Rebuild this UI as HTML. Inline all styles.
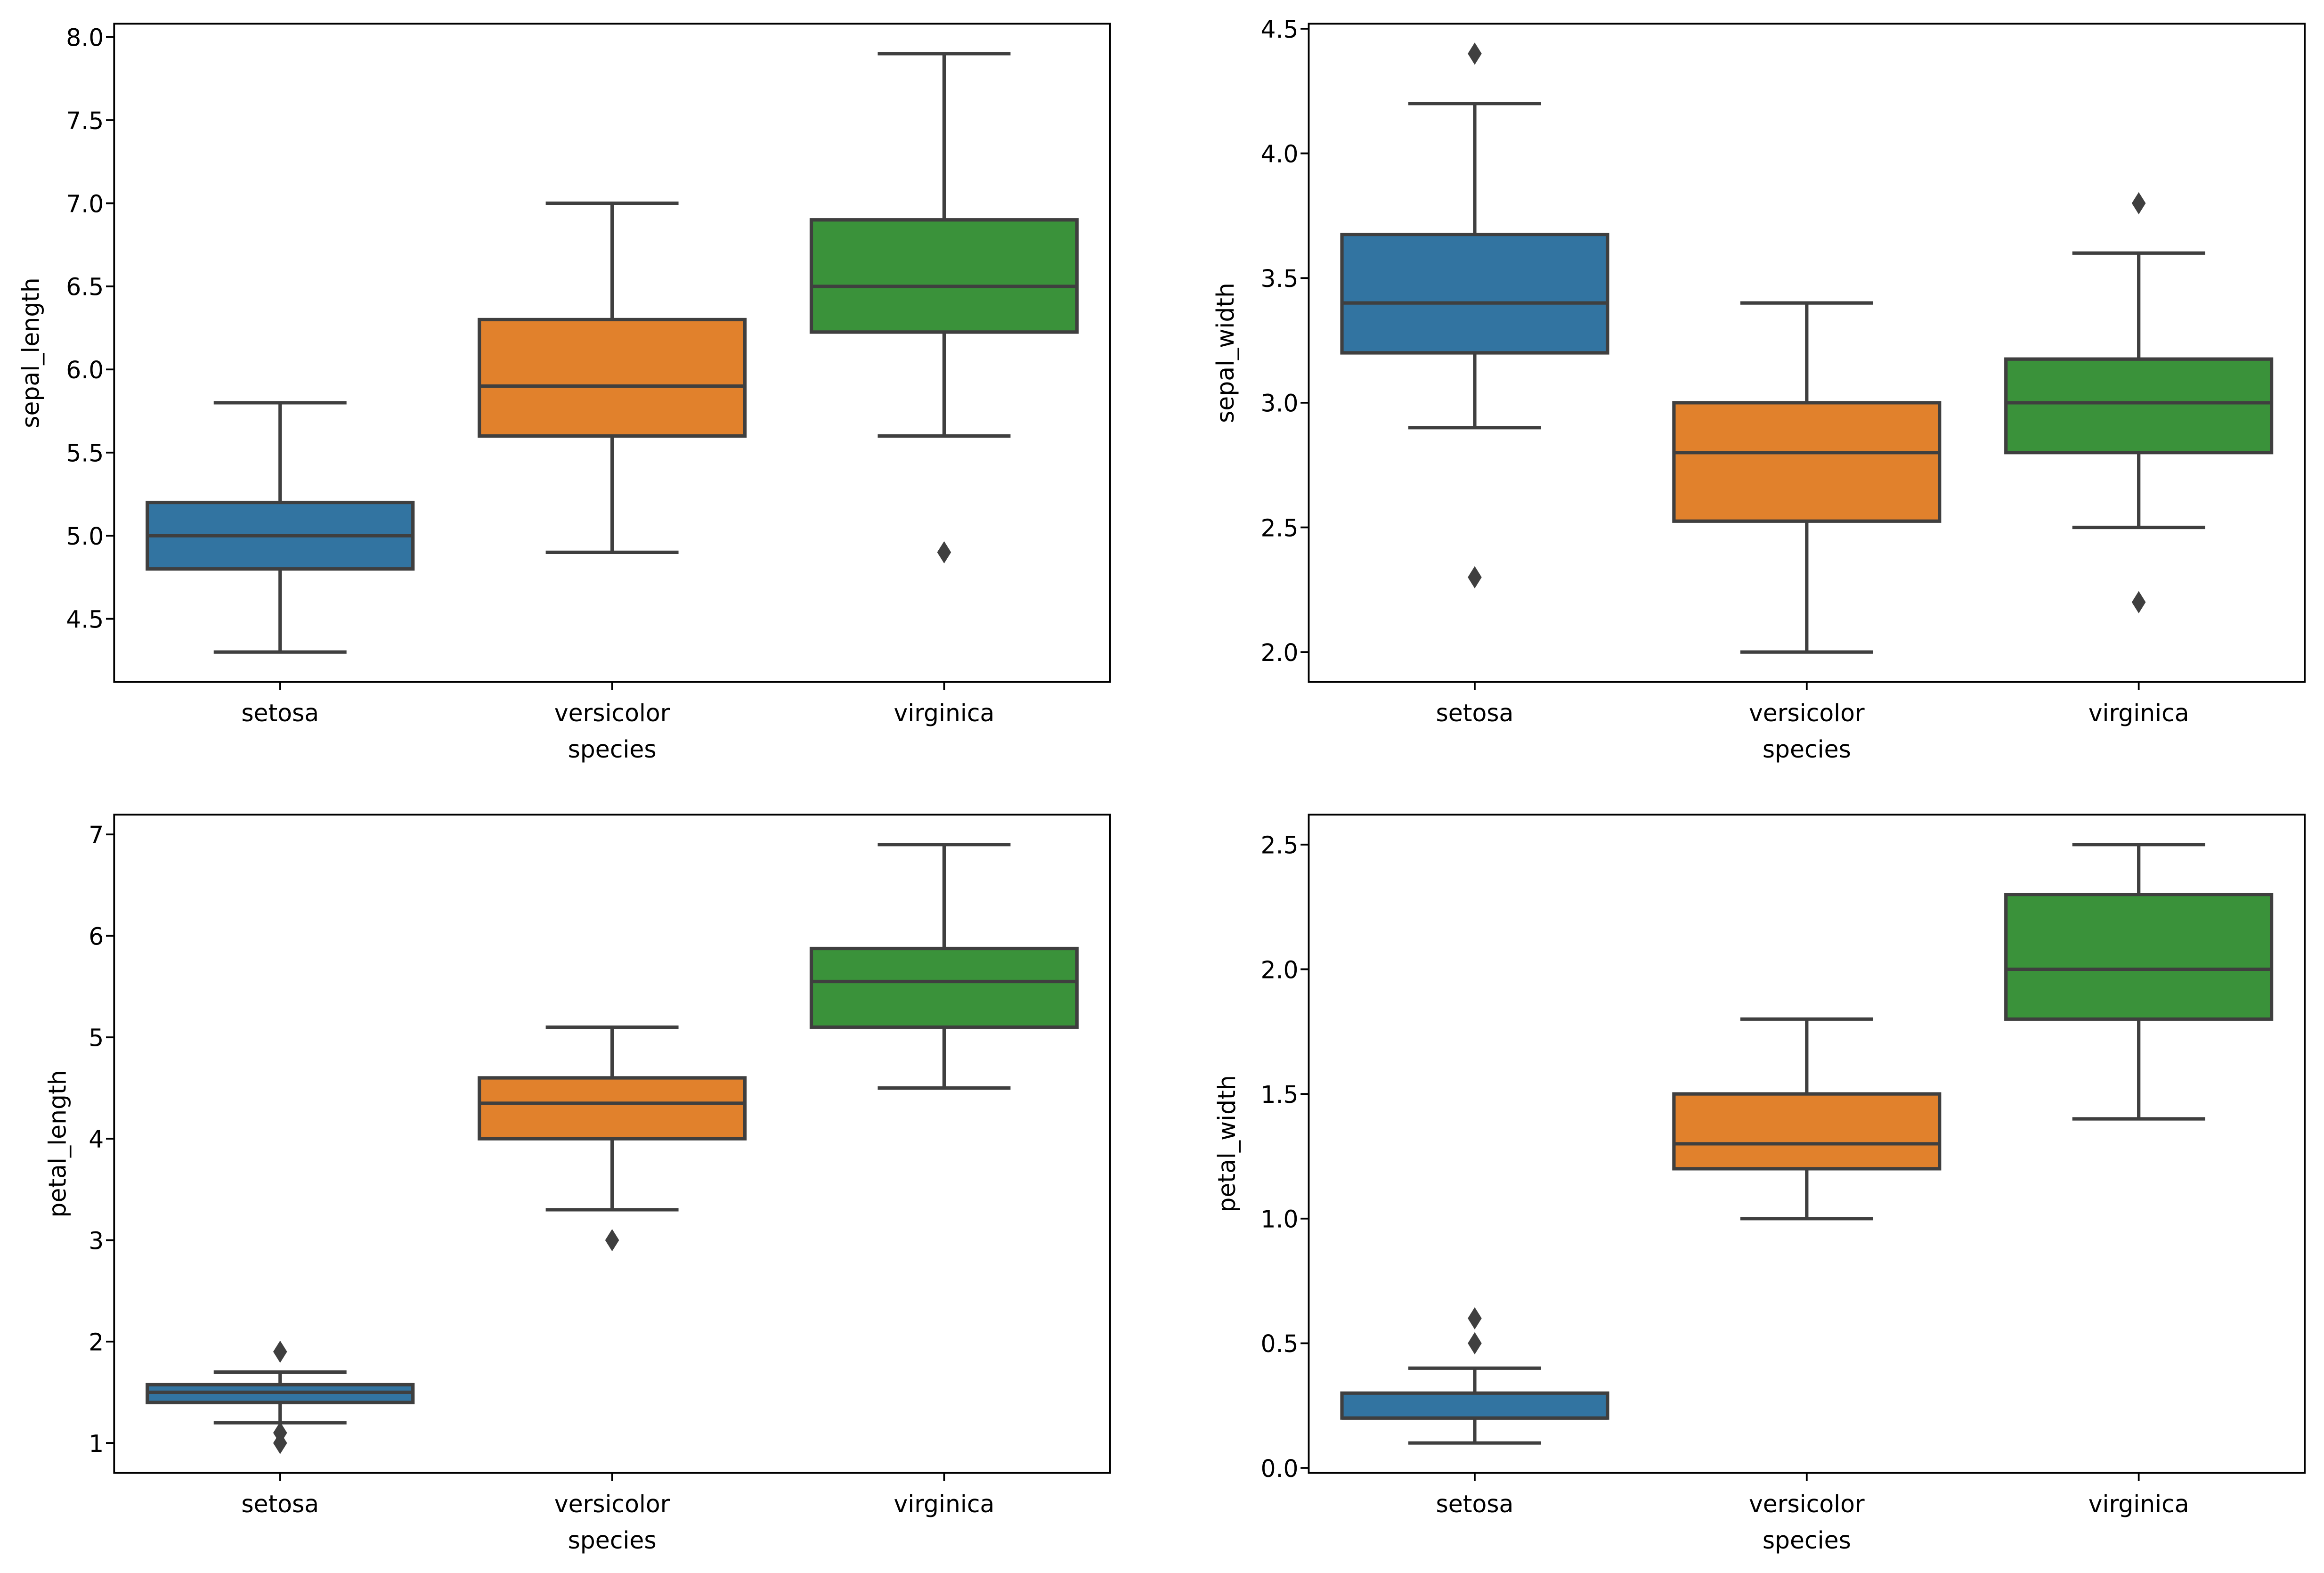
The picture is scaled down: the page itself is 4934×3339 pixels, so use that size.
<!DOCTYPE html>
<html><head><meta charset="utf-8"><style>
html,body{margin:0;padding:0;background:#fff;}
svg{display:block;}
text{font-family:"DejaVu Sans","Liberation Sans",sans-serif;fill:#000;}
</style></head><body>
<svg id="fig" width="4934" height="3339" viewBox="0 0 1568 1061" preserveAspectRatio="none" xmlns="http://www.w3.org/2000/svg">
<rect x="0" y="0" width="1568" height="1061" fill="#fff"/>
</svg>
<script>
const categories = ["setosa","versicolor","virginica"];
const colors = ["#3274a1","#e1812c","#3a923a"];
// [whiskerLow, q1, median, q3, whiskerHigh]
const sepalLengthStats = [[4.3,4.8,5.0,5.2,5.8],[4.9,5.6,5.9,6.3,7.0],[5.6,6.225,6.5,6.9,7.9]];
const sepalLengthOutliers = [[],[],[4.9]];
const sepalWidthStats = [[2.9,3.2,3.4,3.675,4.2],[2.0,2.525,2.8,3.0,3.4],[2.5,2.8,3.0,3.175,3.6]];
const sepalWidthOutliers = [[4.4,2.3],[],[3.8,2.2]];
const petalLengthStats = [[1.2,1.4,1.5,1.575,1.7],[3.3,4.0,4.35,4.6,5.1],[4.5,5.1,5.55,5.875,6.9]];
const petalLengthOutliers = [[1.9,1.1,1.0],[3.0],[]];
const petalWidthStats = [[0.1,0.2,0.2,0.3,0.4],[1.0,1.2,1.3,1.5,1.8],[1.4,1.8,2.0,2.3,2.5]];
const petalWidthOutliers = [[0.5,0.6],[],[]];
const sepalLengthTicks = ["4.5","5.0","5.5","6.0","6.5","7.0","7.5","8.0"];
const sepalWidthTicks = ["2.0","2.5","3.0","3.5","4.0","4.5"];
const petalLengthTicks = ["1","2","3","4","5","6","7"];
const petalWidthTicks = ["0.0","0.5","1.0","1.5","2.0","2.5"];

const NS="http://www.w3.org/2000/svg";
const fig=document.getElementById('fig');
function mk(tag,attrs,parent){const e=document.createElementNS(NS,tag);for(const k in attrs)e.setAttribute(k,attrs[k]);(parent||fig).appendChild(e);return e;}

const panels=[
 {name:"sepal-length",label:"sepal_length",stats:sepalLengthStats,out:sepalLengthOutliers,ticks:sepalLengthTicks,x0:77,x1:749,y0:16,y1:460,ylim:[4.12,8.08],ylx:22,tx:70},
 {name:"sepal-width",label:"sepal_width",stats:sepalWidthStats,out:sepalWidthOutliers,ticks:sepalWidthTicks,x0:883,x1:1555,y0:16,y1:460,ylim:[1.88,4.52],ylx:828,tx:876},
 {name:"petal-length",label:"petal_length",stats:petalLengthStats,out:petalLengthOutliers,ticks:petalLengthTicks,x0:77,x1:749,y0:549.5,y1:993.5,ylim:[0.705,7.195],ylx:40,tx:70},
 {name:"petal-width",label:"petal_width",stats:petalWidthStats,out:petalWidthOutliers,ticks:petalWidthTicks,x0:883,x1:1555,y0:549.5,y1:993.5,ylim:[-0.02,2.62],ylx:829,tx:876}
];
const LC="#3f3f3f";
const LW=2.3;
panels.forEach(p=>{
  const g=mk('g',{});
  
  
  const band=(p.x1-p.x0)/3;
  const xs=i=>p.x0+band*(i+0.5);
  const ys=v=>p.y1-(v-p.ylim[0])/(p.ylim[1]-p.ylim[0])*(p.y1-p.y0);
  const bw=band*0.8, cw=bw/2;
  p.stats.forEach((s,i)=>{
    const bg=mk('g',{},g);
    
    
    const cx=xs(i);
    mk('line',{x1:cx,x2:cx,y1:ys(s[0]),y2:ys(s[1]),stroke:LC,'stroke-width':LW},bg);
    mk('line',{x1:cx,x2:cx,y1:ys(s[3]),y2:ys(s[4]),stroke:LC,'stroke-width':LW},bg);
    mk('line',{x1:cx-cw/2,x2:cx+cw/2,y1:ys(s[0]),y2:ys(s[0]),stroke:LC,'stroke-width':LW},bg);
    mk('line',{x1:cx-cw/2,x2:cx+cw/2,y1:ys(s[4]),y2:ys(s[4]),stroke:LC,'stroke-width':LW},bg);
    mk('rect',{x:cx-bw/2,y:ys(s[3]),width:bw,height:ys(s[1])-ys(s[3]),fill:colors[i],stroke:LC,'stroke-width':LW},bg);
    mk('line',{x1:cx-bw/2,x2:cx+bw/2,y1:ys(s[2]),y2:ys(s[2]),stroke:LC,'stroke-width':LW},bg);
    p.out[i].forEach(v=>{
      const d=mk('polygon',{points:`${cx},${ys(v)-7.5} ${cx+4.7},${ys(v)} ${cx},${ys(v)+7.5} ${cx-4.7},${ys(v)}`,fill:LC},bg);
      
      
    });
  });
  const fr=mk('rect',{x:p.x0,y:p.y0,width:p.x1-p.x0,height:p.y1-p.y0,fill:'none',stroke:'#000','stroke-width':1.2},g);
  
  
  p.ticks.forEach(t=>{
    const y=ys(parseFloat(t));
    mk('line',{x1:p.x0-5.5,x2:p.x0,y1:y,y2:y,stroke:'#000','stroke-width':1.2},g);
    const tt=mk('text',{x:p.tx,y:y+6,'font-size':16,'text-anchor':'end'},g);
    tt.textContent=t;
    
    
  });
  categories.forEach((c,i)=>{
    const x=xs(i);
    mk('line',{x1:x,x2:x,y1:p.y1,y2:p.y1+5.5,stroke:'#000','stroke-width':1.2},g);
    const tt=mk('text',{x:x,y:p.y1+26.5,'font-size':16,'text-anchor':'middle'},g);
    tt.textContent=c;
    
    
  });
  const xl=mk('text',{x:(p.x0+p.x1)/2,y:p.y1+51,'font-size':16,'text-anchor':'middle'},g);
  xl.textContent='species';
  
  
  const cy=(p.y0+p.y1)/2;
  const yl=mk('text',{x:p.ylx,y:cy,'font-size':16,'text-anchor':'middle',transform:`rotate(-90 ${p.ylx} ${cy})`,'dominant-baseline':'middle'},g);
  yl.textContent=p.label;
  
  
});
</script>
</body></html>
